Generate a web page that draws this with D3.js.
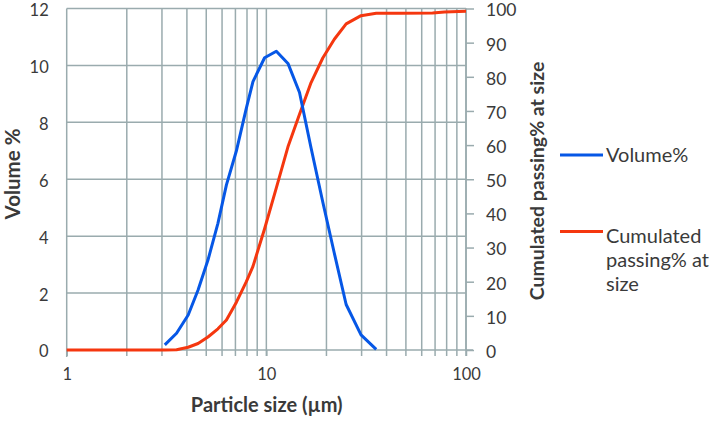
<!DOCTYPE html>
<html>
<head>
<meta charset="utf-8">
<script src="https://cdn.jsdelivr.net/npm/d3@7"></script>
<style>
  body { margin: 0; background: #fff; }
  text { font-family: Lato, "Noto Sans", sans-serif; fill: #3a3a3a; }
</style>
</head>
<body>
<div id="chart"></div>
<script>

const width = 710, height = 421;

// volume% (blue)
let volSize = [3.10, 3.55, 4.06, 4.55, 5.10, 5.72, 6.31, 7.08, 7.94, 8.57, 9.80, 11.22, 12.83, 14.66, 16.75, 19.17, 21.9, 25.1, 29.8, 35.5];
let volVal  = [0.18, 0.59, 1.23, 2.11, 3.16, 4.45, 5.8, 7.0, 8.5, 9.43, 10.27, 10.5, 10.07, 9.05, 7.1, 5.2, 3.4, 1.6, 0.53, 0.02];

// cumulated passing% (red)
let cumSize = [1, 2, 3.10, 3.55, 4.06, 4.55, 5.10, 5.72, 6.31, 7.08, 7.94, 8.57, 9.80, 11.22, 12.83, 14.66, 16.75, 19.17, 21.9, 25.1, 29.8, 35.5, 47, 68, 78, 100];
let cumVal  = [0, 0, 0, 0.1, 0.8, 1.9, 3.8, 6.2, 8.8, 14, 20, 24.5, 35.5, 47.5, 59.5, 69, 78.3, 85.5, 91, 95.5, 97.9, 98.6, 98.6, 98.7, 99, 99.2];

let xTicks = [1, 10, 100];
let xGrid = [2, 3, 4, 5, 6, 7, 8, 9, 10, 20, 30, 40, 50, 60, 70, 80, 90, 100];
let leftTicks = [0, 2, 4, 6, 8, 10, 12];
let rightTicks = [0, 10, 20, 30, 40, 50, 60, 70, 80, 90, 100];

const gridColor = "#9aabae";
const blue = "#0657e6";
const red = "#f5370f";

let svg = d3.select("#chart")
	.append("svg")
	.attr("width", width)
	.attr("height", height);

let x = d3.scaleLog().domain([1, 100]).range([66.7, 466]);
let yL = d3.scaleLinear().domain([0, 12]).range([350, 8.5]);
let yR = d3.scaleLinear().domain([0, 100]).range([350, 8.5]);

// GRID
let grid = svg.append("g");

grid.selectAll(".hg")
	.data(leftTicks.filter(d => d > 0))
	.enter()
	.append("line")
	.attr("x1", x(1))
	.attr("x2", x(100))
	.attr("y1", d => yL(d))
	.attr("y2", d => yL(d))
	.style("stroke", gridColor)
	.style("stroke-width", 1.5);

grid.selectAll(".vg")
	.data(xGrid)
	.enter()
	.append("line")
	.attr("x1", d => x(d))
	.attr("x2", d => x(d))
	.attr("y1", yL(12))
	.attr("y2", yL(0) + 6)
	.style("stroke", gridColor)
	.style("stroke-width", 1.5);

// AXES
let xAxis = d3.axisBottom(x).tickValues(xTicks).tickFormat(d3.format("d")).tickSize(6).tickPadding(12);
let gx = svg.append("g").attr("transform", "translate(0," + yL(0) + ")").call(xAxis);
gx.select(".domain").attr("d", "M" + x(1) + ",0H" + (x(100) + 7));

let yAxisL = d3.axisLeft(yL).tickValues(leftTicks).tickSize(0).tickPadding(18);
let gl = svg.append("g").attr("transform", "translate(" + x(1) + ",0)").call(yAxisL);
gl.select(".domain").attr("d", "M0," + yL(12) + "V" + (yL(0) + 7));

let yAxisR = d3.axisRight(yR).tickValues(rightTicks).tickSize(8).tickPadding(12);
let gr = svg.append("g").attr("transform", "translate(" + x(100) + ",0)").call(yAxisR);
gr.select(".domain").attr("d", "M0," + yR(100) + "V" + yR(0));

svg.selectAll(".domain, .tick line").style("stroke", gridColor).style("stroke-width", 1.5);
svg.selectAll(".tick text").style("font-size", "16.5px").style("font-family", "Lato, sans-serif").style("fill", "#3a3a3a");
gr.selectAll(".tick text").style("font-size", "17.5px");
// les labels du haut un peu plus bas, comme sur l'original
gl.selectAll(".tick text").attr("dy", "0.42em");
gr.selectAll(".tick text").attr("dy", "0.42em");

// LINES
let lineVol = d3.line().x((d, i) => x(volSize[i])).y(d => yL(d));
let lineCum = d3.line().x((d, i) => x(cumSize[i])).y(d => yR(d));

svg.append("path")
	.attr("d", lineCum(cumVal))
	.style("fill", "none")
	.style("stroke", red)
	.style("stroke-width", 3)
	.style("stroke-linejoin", "round");

svg.append("path")
	.attr("d", lineVol(volVal))
	.style("fill", "none")
	.style("stroke", blue)
	.style("stroke-width", 3)
	.style("stroke-linejoin", "round");

// TITRES
svg.append("text")
	.attr("transform", "translate(19.5," + 174 + ") rotate(-90)")
	.attr("text-anchor", "middle")
	.style("font-size", "20.5px")
	.style("font-weight", "bold")
	.text("Volume %");

svg.append("text")
	.attr("x", 266.7)
	.attr("y", 412)
	.attr("text-anchor", "middle")
	.style("font-size", "20px")
	.style("font-weight", "bold")
	.text("Particle size (µm)");

svg.append("text")
	.attr("transform", "translate(544," + 181 + ") rotate(-90)")
	.attr("text-anchor", "middle")
	.style("font-size", "19.5px")
	.style("font-weight", "bold")
	.text("Cumulated passing% at size");

// LEGENDE
let legend = svg.append("g");

legend.append("line")
	.attr("x1", 560).attr("x2", 603)
	.attr("y1", 155).attr("y2", 155)
	.style("stroke", blue).style("stroke-width", 3);

legend.append("text")
	.attr("x", 606).attr("y", 162)
	.style("font-size", "20px")
	.text("Volume%");

legend.append("line")
	.attr("x1", 560).attr("x2", 603)
	.attr("y1", 231.5).attr("y2", 231.5)
	.style("stroke", red).style("stroke-width", 3);

let legTxt = ["Cumulated", "passing% at", "size"];
legend.selectAll(".lt")
	.data(legTxt)
	.enter()
	.append("text")
	.attr("x", 606)
	.attr("y", (d, i) => 242.5 + i * 24)
	.style("font-size", "20px")
	.text(d => d);

</script>
</body>
</html>
